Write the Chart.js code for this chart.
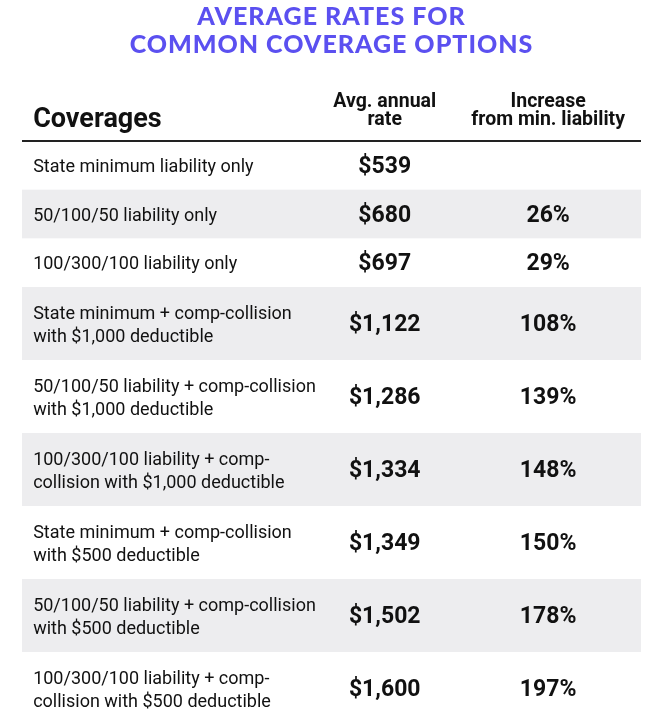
<!DOCTYPE html>
<html>
<head>
<meta charset="utf-8">
<script src="https://cdn.jsdelivr.net/npm/chart.js@4.4.0/dist/chart.umd.min.js"></script>
<style>
  html, body { margin: 0; padding: 0; background: #fff; }
  #wrap { width: 669px; height: 727px; }
</style>
</head>
<body>
<div id="wrap"><canvas id="rateTable"></canvas></div>
<script>
const titleLines = ['AVERAGE RATES FOR', 'COMMON COVERAGE OPTIONS'];
const columnHeaders = [['Coverages'], ['Avg. annual', 'rate'], ['Increase', 'from min. liability']];
const coverages = [
    ['State minimum liability only'],
    ['50/100/50 liability only'],
    ['100/300/100 liability only'],
    ['State minimum + comp-collision', 'with $1,000 deductible'],
    ['50/100/50 liability + comp-collision', 'with $1,000 deductible'],
    ['100/300/100 liability + comp-', 'collision with $1,000 deductible'],
    ['State minimum + comp-collision', 'with $500 deductible'],
    ['50/100/50 liability + comp-collision', 'with $500 deductible'],
    ['100/300/100 liability + comp-', 'collision with $500 deductible']
];
const annualRates = [539, 680, 697, 1122, 1286, 1334, 1349, 1502, 1600];
const increasePct = [null, 26, 29, 108, 139, 148, 150, 178, 197];

// each row takes (lines + 1) units on the y axis
let rows = [];
let cursor = 0;
coverages.forEach((lines, i) => {
    const units = lines.length + 1;
    rows.push({start: cursor, end: cursor + units, lines: lines, rate: annualRates[i], pct: increasePct[i]});
    cursor += units;
});
const totalUnits = cursor;

// column anchors in x-axis units (0..1 across the table)
const colLabel = 0.018;
const colRate = 0.586;
const colPct = 0.85;
const nudge = 2; // 'middle' baseline sits a bit high for these fonts

const fmtMoney = v => '$' + v.toLocaleString('en-US');

const tablePlugin = {
    id: 'tableCells',
    beforeDraw(chart) {
        // wider tracking for the title block
        chart.ctx.letterSpacing = '1px';
    },
    beforeDatasetsDraw(chart) {
        const {ctx, scales: {x, y}} = chart;
        ctx.letterSpacing = '0px';
        ctx.save();
        rows.forEach((r, i) => {
            if (i % 2 === 1) {
                const top = y.getPixelForValue(r.start);
                const bottom = y.getPixelForValue(r.end);
                ctx.fillStyle = '#ededef';
                ctx.fillRect(x.getPixelForValue(0), top, x.getPixelForValue(1) - x.getPixelForValue(0), bottom - top);
            }
        });
        // rule under the header
        ctx.strokeStyle = '#222';
        ctx.lineWidth = 2;
        ctx.beginPath();
        ctx.moveTo(x.getPixelForValue(0), y.getPixelForValue(0));
        ctx.lineTo(x.getPixelForValue(1), y.getPixelForValue(0));
        ctx.stroke();
        ctx.restore();
    },
    afterDatasetsDraw(chart) {
        const {ctx, scales: {x, y}} = chart;
        const top = y.getPixelForValue(0) + nudge;
        ctx.save();
        ctx.textBaseline = 'middle';
        ctx.fillStyle = '#111';

        // header
        ctx.textAlign = 'left';
        ctx.font = 'bold 27px Roboto';
        ctx.fillText(columnHeaders[0][0], x.getPixelForValue(colLabel), top - 23);
        ctx.textAlign = 'center';
        ctx.font = 'bold 19.5px Roboto';
        [colRate, colPct].forEach((c, k) => {
            const lines = columnHeaders[k + 1];
            lines.forEach((t, j) => {
                ctx.fillText(t, x.getPixelForValue(c), top - 23 - (lines.length - 1 - j) * 18);
            });
        });

        // body rows
        rows.forEach(r => {
            const mid = (y.getPixelForValue(r.start) + y.getPixelForValue(r.end)) / 2 + nudge;
            ctx.textAlign = 'left';
            ctx.font = '18px Roboto';
            r.lines.forEach((t, j) => {
                const off = (j - (r.lines.length - 1) / 2) * 23;
                ctx.fillText(t, x.getPixelForValue(colLabel), mid + off);
            });
            ctx.textAlign = 'center';
            ctx.font = 'bold 23px Roboto';
            ctx.fillText(fmtMoney(r.rate), x.getPixelForValue(colRate), mid);
            if (r.pct !== null) {
                ctx.fillText(r.pct + '%', x.getPixelForValue(colPct), mid);
            }
        });
        ctx.restore();
    }
};

new Chart(document.getElementById('rateTable'), {
    type: 'bar',
    data: { labels: [], datasets: [] },
    options: {
        responsive: true,
        maintainAspectRatio: false,
        animation: false,
        layout: { padding: { left: 22, right: 28, top: 0, bottom: 2 } },
        plugins: {
            legend: { display: false },
            tooltip: { enabled: false },
            title: {
                display: true,
                text: titleLines,
                color: '#5b50f0',
                font: { family: 'Lato', size: 25, weight: '900', lineHeight: 1.12 },
                padding: { top: 3, bottom: 82 }
            }
        },
        scales: {
            x: { type: 'linear', min: 0, max: 1, offset: false, display: false },
            y: { type: 'linear', min: 0, max: totalUnits, offset: false, reverse: true, display: false }
        }
    },
    plugins: [tablePlugin]
});
</script>
</body>
</html>
